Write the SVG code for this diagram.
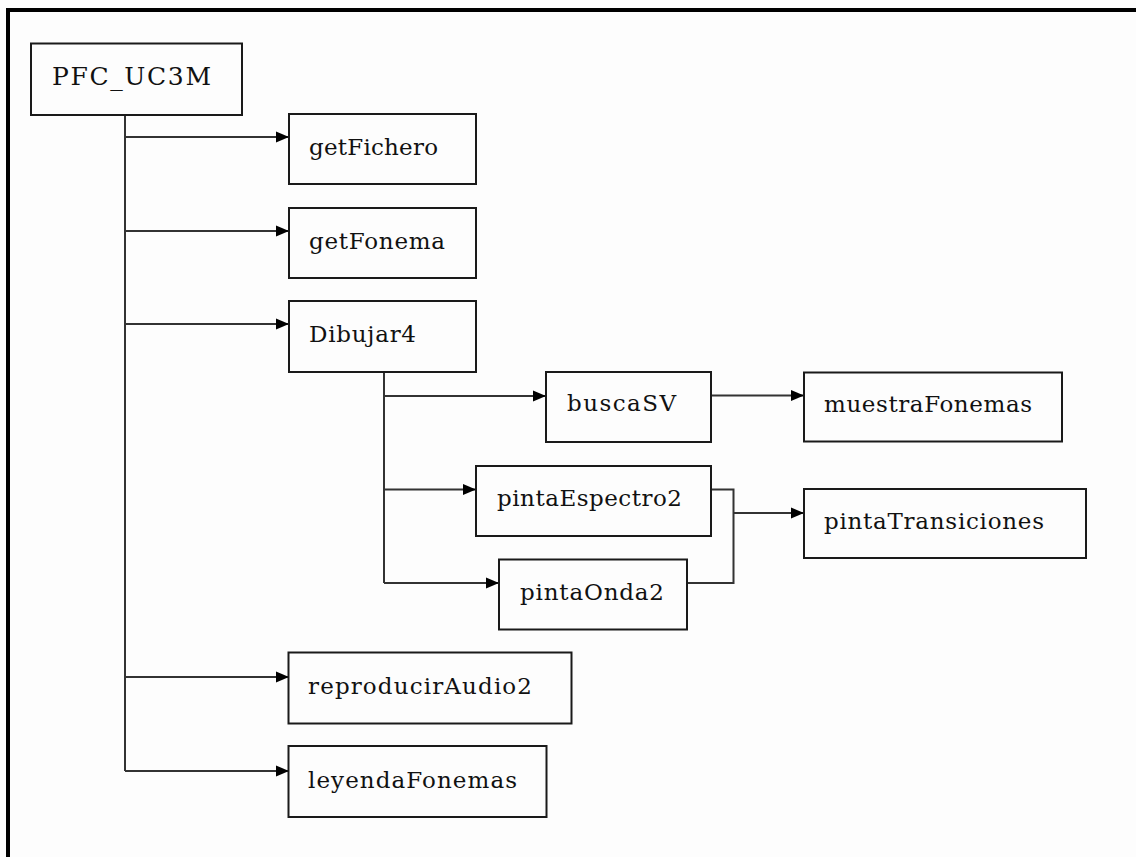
<svg xmlns="http://www.w3.org/2000/svg" width="1136" height="857" viewBox="0 0 1136 857">
<style>
.box{fill:none;stroke:#1a1a1a;stroke-width:2}
.lbl{font-family:"DejaVu Serif","Liberation Serif",serif;font-size:23px;fill:#111}
.big{font-size:25px}
.ln{fill:none;stroke:#333;stroke-width:2}
</style>
<defs>
<marker id="arr" markerWidth="13" markerHeight="12" refX="13" refY="6" orient="auto" markerUnits="userSpaceOnUse">
<path d="M0,0.5 L13,6 L0,11.5 Z" fill="#000"/>
</marker>
</defs>
<rect x="0" y="0" width="1136" height="857" fill="#fdfdfd"/>
<g id="frame">
<line x1="6" y1="10" x2="1136" y2="10" stroke="#000" stroke-width="4"/>
<line x1="8" y1="8" x2="8" y2="857" stroke="#000" stroke-width="4"/>
</g>
<g id="connectors">
<path class="ln" d="M125,115 V771"/>
<path class="ln" d="M125,137 H289" marker-end="url(#arr)"/>
<path class="ln" d="M125,231 H289" marker-end="url(#arr)"/>
<path class="ln" d="M125,324 H289" marker-end="url(#arr)"/>
<path class="ln" d="M125,677 H289" marker-end="url(#arr)"/>
<path class="ln" d="M125,771 H289" marker-end="url(#arr)"/>
<path class="ln" d="M384,372 V583"/>
<path class="ln" d="M384,396 H546" marker-end="url(#arr)"/>
<path class="ln" d="M384,489.5 H476" marker-end="url(#arr)"/>
<path class="ln" d="M384,583 H499" marker-end="url(#arr)"/>
<path class="ln" d="M711,395.5 H804" marker-end="url(#arr)"/>
<path class="ln" d="M711,489.5 H733.5 V583 H687"/>
<path class="ln" d="M733.5,513 H804" marker-end="url(#arr)"/>
</g>
<g id="PFC_UC3M"><rect class="box" x="31" y="43.5" width="211" height="71.5"/><text class="lbl big" x="52" y="85" textLength="159" lengthAdjust="spacing">PFC_UC3M</text></g>
<g id="getFichero"><rect class="box" x="289" y="114" width="187" height="70"/><text class="lbl" x="309" y="155" textLength="129" lengthAdjust="spacing">getFichero</text></g>
<g id="getFonema"><rect class="box" x="289" y="208" width="187" height="70"/><text class="lbl" x="309" y="249" textLength="136" lengthAdjust="spacing">getFonema</text></g>
<g id="Dibujar4"><rect class="box" x="289" y="301" width="187" height="71"/><text class="lbl" x="309" y="342" textLength="107" lengthAdjust="spacing">Dibujar4</text></g>
<g id="buscaSV"><rect class="box" x="546" y="372" width="165" height="70"/><text class="lbl" x="567" y="411" textLength="109" lengthAdjust="spacing">buscaSV</text></g>
<g id="pintaEspectro2"><rect class="box" x="476" y="466" width="235" height="70"/><text class="lbl" x="497" y="506" textLength="185" lengthAdjust="spacing">pintaEspectro2</text></g>
<g id="pintaOnda2"><rect class="box" x="499" y="559.5" width="188" height="70"/><text class="lbl" x="520" y="600" textLength="144" lengthAdjust="spacing">pintaOnda2</text></g>
<g id="muestraFonemas"><rect class="box" x="804" y="372.5" width="258" height="69"/><text class="lbl" x="824" y="412" textLength="208" lengthAdjust="spacing">muestraFonemas</text></g>
<g id="pintaTransiciones"><rect class="box" x="804" y="489" width="282" height="69"/><text class="lbl" x="824" y="529" textLength="220" lengthAdjust="spacing">pintaTransiciones</text></g>
<g id="reproducirAudio2"><rect class="box" x="288.5" y="652.5" width="283" height="71"/><text class="lbl" x="308" y="694" textLength="224" lengthAdjust="spacing">reproducirAudio2</text></g>
<g id="leyendaFonemas"><rect class="box" x="288.5" y="746" width="258" height="71"/><text class="lbl" x="308" y="788" textLength="209" lengthAdjust="spacing">leyendaFonemas</text></g>
</svg>
